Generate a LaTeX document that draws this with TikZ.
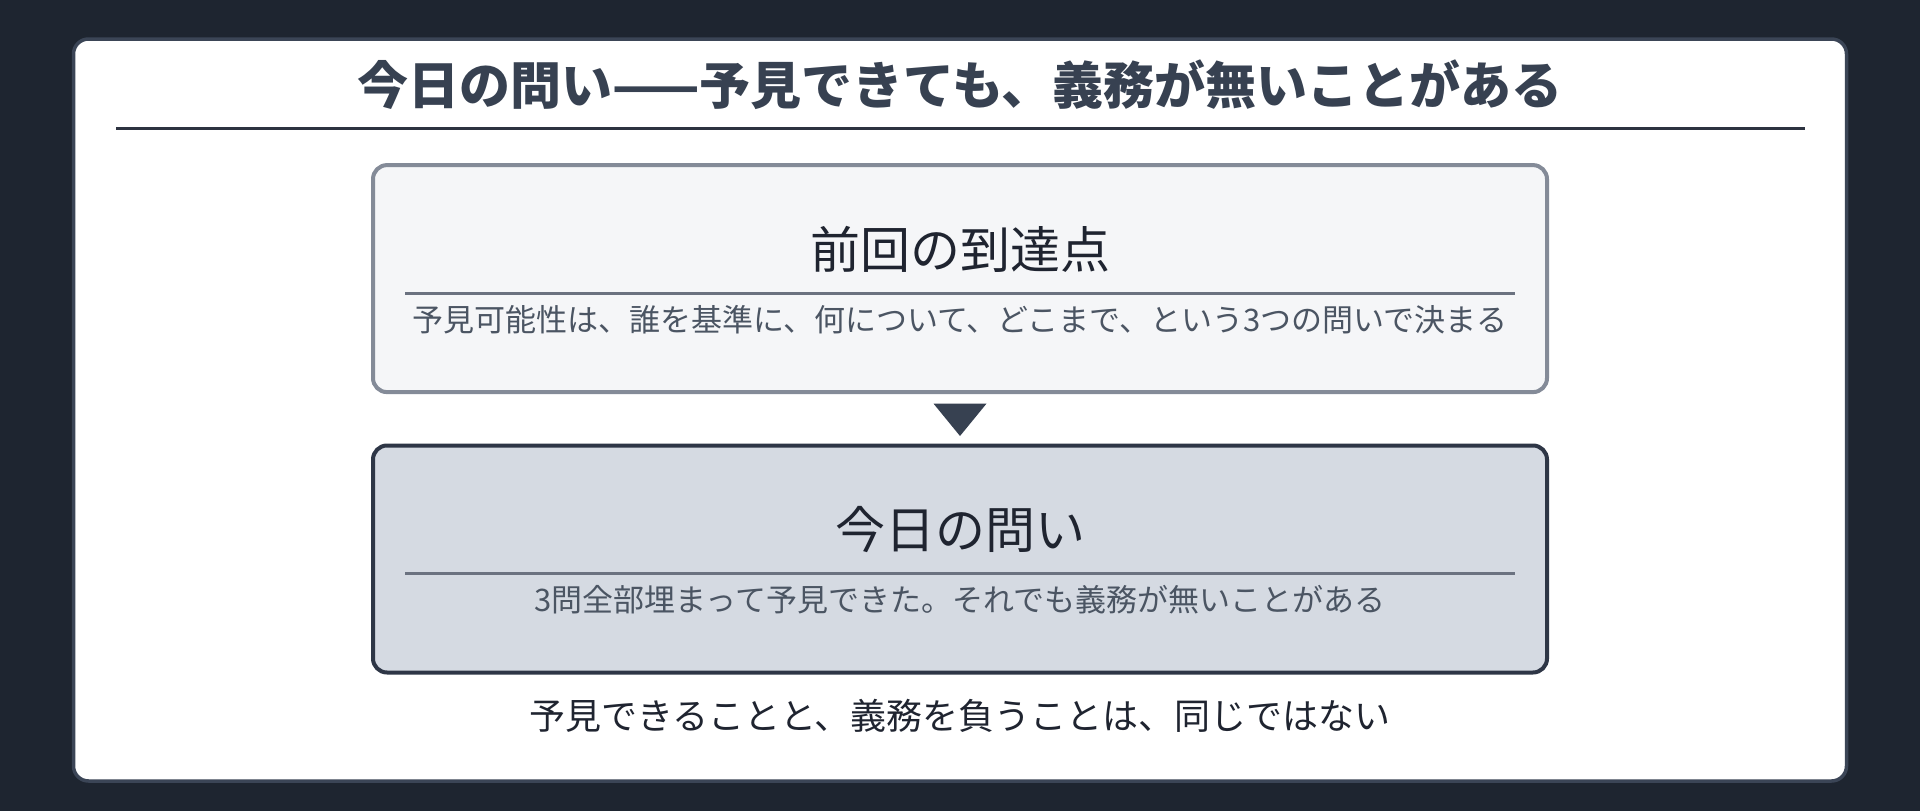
\documentclass[tikz,border=0pt]{standalone}
\usepackage{fontspec}
\setmainfont{Noto Sans CJK JP}
\usetikzlibrary{positioning,calc}

\definecolor{pagebg}{HTML}{1E2530}
\definecolor{cardedge}{HTML}{3B4556}
\definecolor{titleink}{HTML}{374151}
\definecolor{ruleink}{HTML}{2D3340}
\definecolor{prevfill}{HTML}{F5F6F8}
\definecolor{prevedge}{HTML}{848B98}
\definecolor{todayfill}{HTML}{D5DAE2}
\definecolor{todayedge}{HTML}{2E3646}
\definecolor{headink}{HTML}{1F2430}
\definecolor{subink}{HTML}{4B5563}
\definecolor{sepink}{HTML}{6B7280}

\tikzset{
  stagebox/.style={rounded corners=14pt, line width=4pt, minimum width=1174pt,
    minimum height=227pt, inner sep=0pt},
  headtext/.style={font=\fontsize{50}{58}\selectfont, text=headink, inner sep=0pt},
  subtext/.style={font=\fontsize{31}{36}\selectfont, text=subink, inner sep=0pt},
  sepline/.style={draw=sepink, line width=3pt},
}

\begin{document}
\begin{tikzpicture}[x=1pt,y=-1pt]
    \fill[pagebg] (0,0) rectangle (1920,811);
    \useasboundingbox (0,0) rectangle (1920,811);
    % card
    \draw[cardedge, fill=white, line width=3.5pt, rounded corners=15pt] (73.5,39) rectangle (1846.5,781);
    \node[font=\bfseries\fontsize{51}{60}\selectfont, text=titleink, inner sep=0pt] (title) at (960,85)
        {今日の問い——予見できても、義務が無いことがある};
    \draw[ruleink, line width=2.5pt] (116,128.6) -- (1805,128.6);
    % previous step
    \node[stagebox, draw=prevedge, fill=prevfill] (prev) at (960,278.6) {};
    \node[headtext] (prevhead) at ($(prev.north)+(0,86)$) {前回の到達点};
    \draw[sepline] ($(prev.west)+(34,15.3)$) -- ($(prev.east)+(-34,15.3)$);
    \node[subtext] (prevsub) at ($(prev.north)+(0,157)$)
        {予見可能性は、誰を基準に、何について、どこまで、という3つの問いで決まる};
    % today
    \node[stagebox, draw=todayedge, fill=todayfill] (today) at (960,559) {};
    \node[headtext] (todayhead) at ($(today.north)+(0,86)$) {今日の問い};
    \draw[sepline] ($(today.west)+(34,14)$) -- ($(today.east)+(-34,14)$);
    \node[subtext] (todaysub) at ($(today.north)+(0,156)$)
        {3問全部埋まって予見できた。それでも義務が無いことがある};
    % arrow between
    \fill[titleink] ($(prev.south)+(-26.5,9.5)$) -- ($(prev.south)+(26.5,9.5)$)
        -- ($(today.north)+(0,-7.5)$) -- cycle;
    \node[font=\fontsize{36}{42}\selectfont, text=headink, inner sep=0pt] (verdict) at (960,716.3)
        {予見できることと、義務を負うことは、同じではない};
\end{tikzpicture}
\end{document}
